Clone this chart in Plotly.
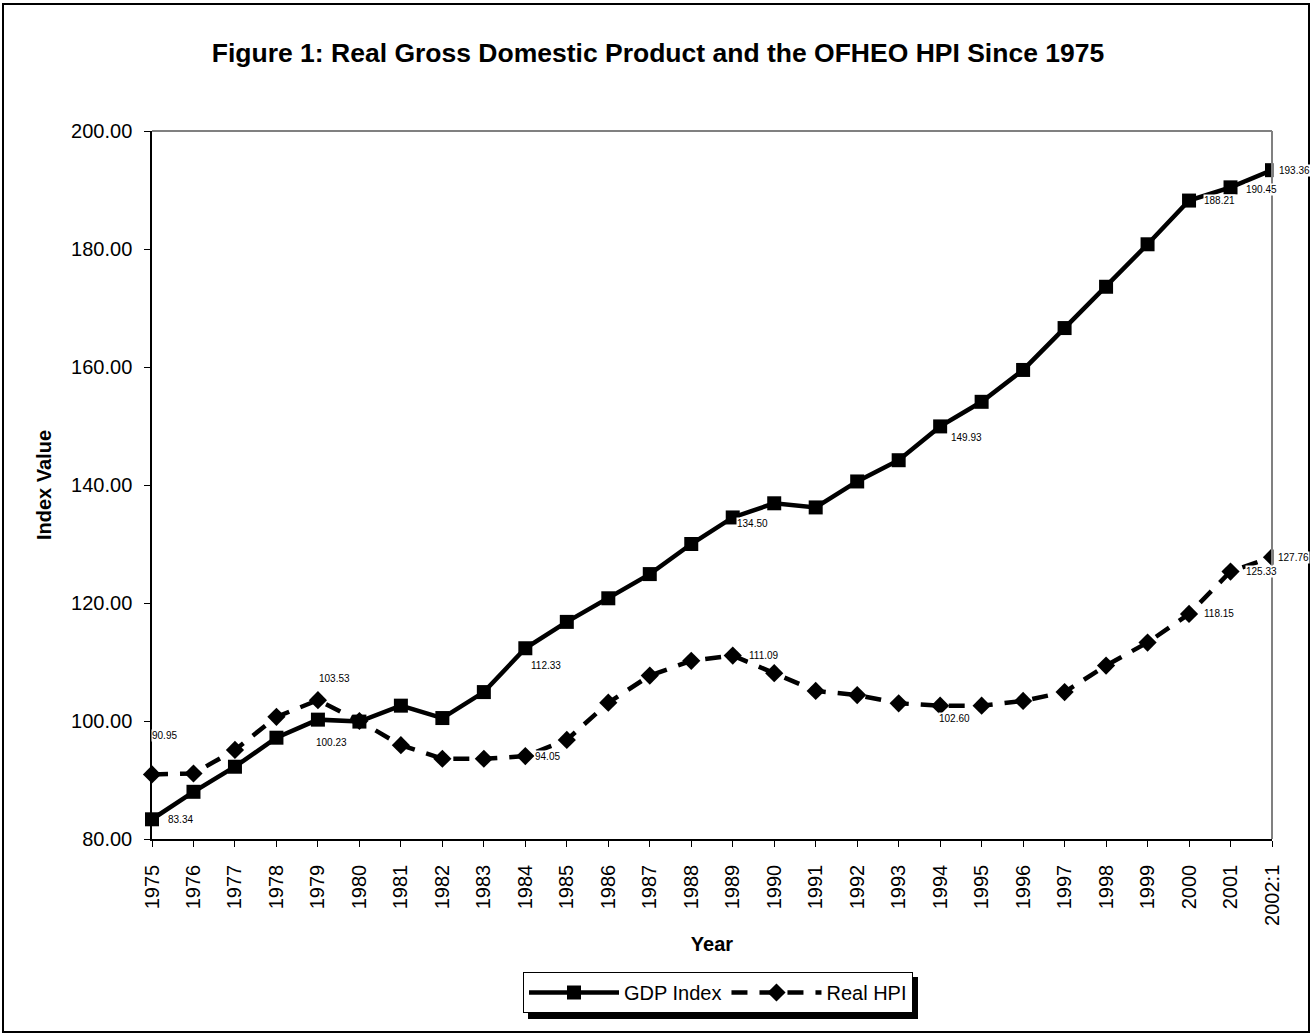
import plotly.graph_objects as go

years = ["1975", "1976", "1977", "1978", "1979", "1980", "1981", "1982", "1983", "1984",
         "1985", "1986", "1987", "1988", "1989", "1990", "1991", "1992", "1993", "1994",
         "1995", "1996", "1997", "1998", "1999", "2000", "2001", "2002:1"]

gdp_index = [83.34, 88.0, 92.25, 97.17, 100.23, 99.9, 102.6, 100.5, 104.9, 112.33,
             116.8, 120.8, 124.9, 130.0, 134.50, 136.9, 136.2, 140.6, 144.2, 149.93,
             154.1, 159.5, 166.6, 173.6, 180.8, 188.21, 190.45, 193.36]

real_hpi = [90.95, 91.1, 95.1, 100.7, 103.53, 100.0, 95.9, 93.6, 93.6, 94.05,
            96.8, 103.1, 107.7, 110.2, 111.09, 108.1, 105.1, 104.4, 103.0, 102.60,
            102.6, 103.4, 104.9, 109.4, 113.3, 118.15, 125.33, 127.76]

y_ticks = [80, 100, 120, 140, 160, 180, 200]

# which points carry a data label (indices into the series)
gdp_labelled = [0, 4, 9, 14, 19, 25, 26, 27]
hpi_labelled = [0, 4, 9, 14, 19, 25, 26, 27]

# label offsets (pixels, dx right, dy down) - presentation only
gdp_offsets = {0: (28, 0), 4: (14, 23), 9: (21, 17), 14: (20, 6), 19: (26, 11),
               25: (30, 0), 26: (31, 2), 27: (22, 0)}
hpi_offsets = {0: (12, -39), 4: (17, -22), 9: (22, 0), 14: (31, 0), 19: (14, 13),
               25: (30, 0), 26: (31, 0), 27: (21, 0)}

FONT = "Arial, Liberation Sans, sans-serif"

# plot-area geometry (px)
L, R, T, B = 152, 1272, 131, 839
W, H = 1312, 1036


def px_x(p):
    return (p - L) / (R - L)


def px_y(p):
    return (B - p) / (B - T)


fig = go.Figure()

fig.add_trace(go.Scatter(
    x=years, y=gdp_index, name="GDP Index", mode="lines+markers",
    line=dict(color="black", width=4.5),
    marker=dict(symbol="square", size=14, color="black"),
    cliponaxis=False,
))
fig.add_trace(go.Scatter(
    x=years, y=real_hpi, name="Real HPI", mode="lines+markers",
    line=dict(color="black", width=4.5, dash="16px,12px"),
    marker=dict(symbol="diamond", size=14, color="black"),
    cliponaxis=False,
))

annotations = []
for series, idxs, offs in ((gdp_index, gdp_labelled, gdp_offsets),
                           (real_hpi, hpi_labelled, hpi_offsets)):
    for i in idxs:
        dx, dy = offs[i]
        annotations.append(dict(x=i, y=series[i], xref="x", yref="y",
                                text=f"{series[i]:.2f}", showarrow=False,
                                xshift=dx, yshift=-dy, bgcolor="white", borderpad=0,
                                font=dict(family=FONT, size=10, color="black")))

shapes = [
    # outer chart border
    dict(type="rect", xref="paper", yref="paper",
         x0=px_x(3), x1=px_x(1309), y0=px_y(1032), y1=px_y(4),
         line=dict(color="black", width=2), fillcolor="rgba(0,0,0,0)", layer="below"),
    # cover the half of the last markers beyond the plot area
    dict(type="rect", xref="paper", yref="paper",
         x0=px_x(R + 1.5), x1=px_x(R + 12), y0=0, y1=1,
         line=dict(width=0), fillcolor="white", layer="above"),
    # grey top and right plot-area border
    dict(type="line", xref="paper", yref="paper", x0=0, x1=1, y0=1, y1=1,
         line=dict(color="#808080", width=2), layer="above"),
    dict(type="line", xref="paper", yref="paper", x0=1, x1=1, y0=0, y1=1,
         line=dict(color="#808080", width=2), layer="above"),
    # legend shadow
    dict(type="rect", xref="paper", yref="paper",
         x0=px_x(528), x1=px_x(918), y0=px_y(1019), y1=px_y(977),
         line=dict(width=0), fillcolor="black", layer="above"),
]

fig.update_layout(
    width=W, height=H,
    margin=dict(l=L, r=W - R, t=T, b=H - B, autoexpand=False),
    paper_bgcolor="white", plot_bgcolor="white",
    font=dict(family=FONT, color="black"),
    title=dict(text="<b>Figure 1: Real Gross Domestic Product and the OFHEO HPI Since 1975</b>",
               x=658 / W, xanchor="center",
               y=1 - 53 / H, yanchor="middle", yref="container",
               font=dict(family=FONT, size=26.5, color="black")),
    showlegend=True,
    legend=dict(orientation="h", x=px_x(718), xanchor="center",
                y=px_y(972), yanchor="top",
                bgcolor="white", bordercolor="black", borderwidth=1,
                font=dict(family=FONT, size=20, color="black"),
                itemwidth=90, tracegroupgap=0),
    annotations=annotations,
    shapes=shapes,
)

fig.update_xaxes(
    type="category", range=[0, len(years) - 1],
    showline=True, linecolor="black", linewidth=1.5,
    ticks="outside", ticklen=6, tickcolor="black", tickwidth=1,
    tickangle=-90, ticklabelstandoff=10,
    tickfont=dict(family=FONT, size=20, color="black"),
    showgrid=False, zeroline=False, automargin=False,
    title=dict(text="<b>Year</b>", standoff=12,
               font=dict(family=FONT, size=20, color="black")),
)
fig.update_yaxes(
    range=[80, 200], tickvals=y_ticks, tickformat=".2f",
    showline=True, linecolor="black", linewidth=1.5,
    ticks="outside", ticklen=6, tickcolor="black", tickwidth=1,
    ticklabelstandoff=8,
    tickfont=dict(family=FONT, size=20, color="black"),
    showgrid=False, zeroline=False, automargin=False,
    title=dict(text="<b>Index Value</b>", standoff=14,
               font=dict(family=FONT, size=20, color="black")),
)

fig.write_html("out.html", config={"displayModeBar": False},
               post_script="document.body.style.margin='0';document.body.style.overflow='hidden';")
